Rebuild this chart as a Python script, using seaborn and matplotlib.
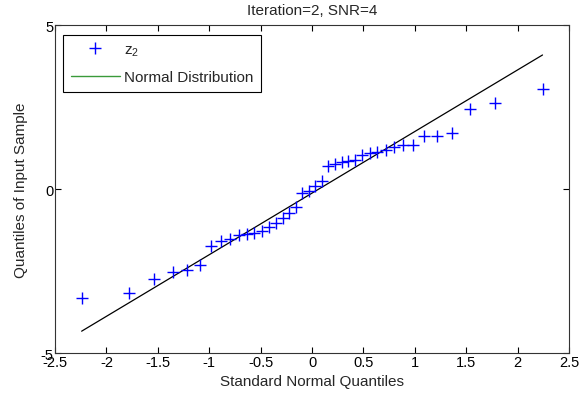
import numpy as np
import pandas as pd
import matplotlib
matplotlib.use("Agg")
import matplotlib.pyplot as plt
from matplotlib.lines import Line2D
import seaborn as sns

# Standard normal quantiles (x) and sample quantiles (y)
x_quantiles = [-2.241, -1.780, -1.534, -1.356, -1.213, -1.092, -0.984, -0.887, -0.797, -0.714,
               -0.636, -0.562, -0.489, -0.420, -0.352, -0.287, -0.222, -0.157, -0.094, -0.031,
               0.031, 0.094, 0.157, 0.222, 0.287, 0.352, 0.420, 0.489, 0.562, 0.636,
               0.714, 0.797, 0.887, 0.984, 1.092, 1.213, 1.356, 1.534, 1.780, 2.241]
y_quantiles = [-3.32, -3.17, -2.74, -2.53, -2.47, -2.32, -1.74, -1.59, -1.52, -1.40,
               -1.37, -1.34, -1.28, -1.16, -1.04, -0.88, -0.73, -0.55, -0.12, -0.06,
               0.09, 0.24, 0.70, 0.76, 0.82, 0.85, 0.88, 1.04, 1.10, 1.13,
               1.19, 1.28, 1.34, 1.34, 1.62, 1.62, 1.71, 2.44, 2.62, 3.05]
line_x = [-2.241, 2.241]
line_y = [-4.33, 4.09]

xticks = [-2.5, -2, -1.5, -1, -0.5, 0, 0.5, 1, 1.5, 2, 2.5]
xticklabels = ["-2.5", "-2", "-1.5", "-1", "-0.5", "0", "0.5", "1", "1.5", "2", "2.5"]
yticks = [-5, 0, 5]
yticklabels = ["-5", "0", "5"]

sns.set_style("ticks")
plt.rcParams['font.family'] = ['Liberation Sans', 'DejaVu Sans']
plt.rcParams['mathtext.fontset'] = 'custom'
plt.rcParams['mathtext.rm'] = 'Liberation Sans'
plt.rcParams['mathtext.it'] = 'Liberation Sans'

fig = plt.figure(figsize=(5.79, 4.02), dpi=100)
ax = fig.add_axes([0.095, 0.119, 0.888, 0.816])

pts = pd.DataFrame({"x": x_quantiles, "y": y_quantiles})
ln = pd.DataFrame({"x": line_x, "y": line_y})

sns.lineplot(data=ln, x="x", y="y", ax=ax, color="black", linewidth=0.9)
sns.scatterplot(data=pts, x="x", y="y", ax=ax, marker="+", color="blue",
                s=75, linewidth=1.0, zorder=3)

ax.set_xlim(-2.5, 2.5)
ax.set_ylim(-5, 5)
ax.set_xticks(xticks)
ax.set_xticklabels(xticklabels)
ax.set_yticks(yticks)
ax.set_yticklabels(yticklabels)
ax.tick_params(direction="in", top=True, right=True, length=4, width=0.8,
               labelsize=10.5, pad=1, colors="black")
for s in ax.spines.values():
    s.set_linewidth(0.8)
    s.set_color("#333333")

ax.set_xlabel("Standard Normal Quantiles", fontsize=11, labelpad=4)
ax.set_ylabel("Quantiles of Input Sample", fontsize=11, labelpad=9)
ax.set_title("Iteration=2, SNR=4", fontsize=11, pad=8)

handles = [Line2D([], [], linestyle="none", marker="+", color="blue", markersize=9,
                  markeredgewidth=1.0),
           Line2D([], [], color="#3a9a3a", linewidth=1.0)]
leg = ax.legend(handles, ["z$_2$", "Normal Distribution"], loc="upper left",
                bbox_to_anchor=(0.01, 0.98), fontsize=11, frameon=True,
                fancybox=False, edgecolor="black", framealpha=1,
                handlelength=3.2, borderpad=0.5, labelspacing=0.8, handletextpad=0.3,
                borderaxespad=0.2)
leg.get_frame().set_linewidth(0.8)

fig.savefig("out.png", dpi=100)
